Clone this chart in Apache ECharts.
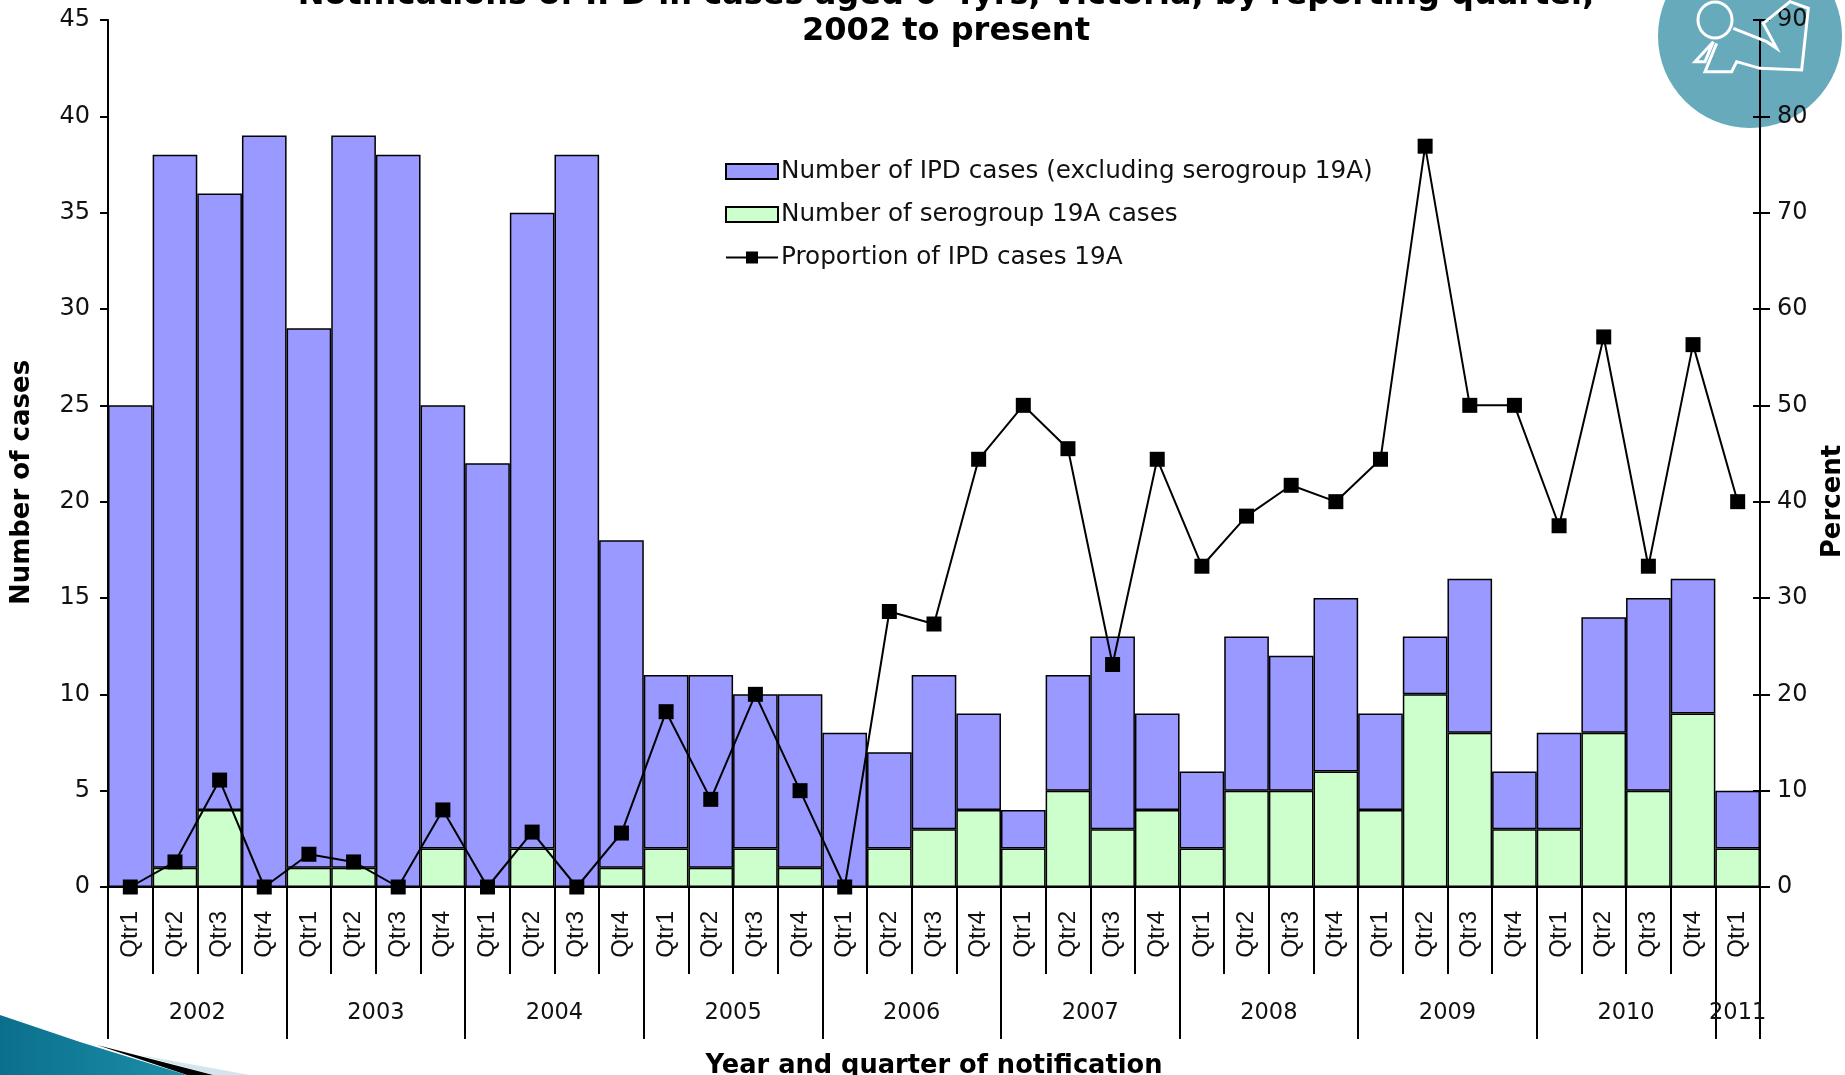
<!DOCTYPE html>
<html>
<head>
<meta charset="utf-8">
<title>IPD notifications by reporting quarter</title>
<script src="https://cdn.jsdelivr.net/npm/echarts@6/dist/echarts.min.js"></script>
<style>
  html, body { margin: 0; padding: 0; background: #fff; overflow: hidden; }
  #chart { width: 1845px; height: 1075px; }
</style>
</head>
<body>
<div id="chart"></div>
<script>
// Reporting quarters, 2002 Qtr1 to 2011 Qtr1
const quarters = [
  'Qtr1','Qtr2','Qtr3','Qtr4','Qtr1','Qtr2','Qtr3','Qtr4','Qtr1','Qtr2','Qtr3','Qtr4',
  'Qtr1','Qtr2','Qtr3','Qtr4','Qtr1','Qtr2','Qtr3','Qtr4','Qtr1','Qtr2','Qtr3','Qtr4',
  'Qtr1','Qtr2','Qtr3','Qtr4','Qtr1','Qtr2','Qtr3','Qtr4','Qtr1','Qtr2','Qtr3','Qtr4','Qtr1'
];
const years = ['2002','2003','2004','2005','2006','2007','2008','2009','2010','2011'];
const yearLabelPositions = [2, 6, 10, 14, 18, 22, 26, 30, 34, 36.5];
const yearBoundaries = [0, 4, 8, 12, 16, 20, 24, 28, 32, 36, 37];

// Cases other than serogroup 19A
const otherCases = [
  25, 37, 32, 39, 28, 38, 38, 23, 22, 33, 38, 17,
  9, 10, 8, 9, 8, 5, 8, 5, 2, 6, 10, 5,
  4, 8, 7, 9, 5, 3, 8, 3, 5, 6, 10, 7, 3
];
// Serogroup 19A cases
const serogroupCases = [
  0, 1, 4, 0, 1, 1, 0, 2, 0, 2, 0, 1,
  2, 1, 2, 1, 0, 2, 3, 4, 2, 5, 3, 4,
  2, 5, 5, 6, 4, 10, 8, 3, 3, 8, 5, 9, 2
];
// Share of cases that are 19A, percent
const proportion19A = [
  0, 2.6, 11.1, 0, 3.4, 2.6, 0, 8, 0, 5.7, 0, 5.6,
  18.2, 9.1, 20, 10, 0, 28.6, 27.3, 44.4, 50, 45.5, 23.1, 44.4,
  33.3, 38.5, 41.7, 40, 44.4, 76.9, 50, 50, 37.5, 57.1, 33.3, 56.3, 40
];

const NAME_OTHER = 'Number of IPD cases (excluding serogroup 19A)';
const NAME_19A = 'Number of serogroup 19A cases';
const NAME_PROP = 'Proportion of IPD cases 19A';

const INK = '#000';
const LABEL = '#111';
const WIDE_FONT = '"DejaVu Sans", Verdana, sans-serif';
const gridBox = { left: 108, top: 20, width: 1652, height: 867 };

const barStyle = (fill) => ({ color: fill, borderColor: INK, borderWidth: 1.5 });
const iconPts = (pts) => pts.map(([x, y]) => [1500 + x / 3, y / 3]);
const iconLine = { stroke: '#fff', fill: null, lineWidth: 3, lineJoin: 'miter' };

const chart = echarts.init(document.getElementById('chart'));
chart.setOption({
  animation: false,
  backgroundColor: '#fff',
  title: {
    text: 'Notifications of IPD in cases aged 0-4yrs, Victoria, by reporting quarter,\n2002 to present',
    left: 941, top: -27, textAlign: 'center',
    textStyle: { fontFamily: WIDE_FONT, fontWeight: 'bold', fontSize: 32, lineHeight: 36, color: INK }
  },
  legend: {
    data: [
      { name: NAME_OTHER, icon: 'rect' },
      { name: NAME_19A, icon: 'rect' },
      { name: NAME_PROP }
    ],
    orient: 'vertical', left: 720, top: 154, itemGap: 18,
    itemWidth: 52, itemHeight: 15,
    selectedMode: false,
    textStyle: { fontFamily: WIDE_FONT, fontSize: 24.7, color: LABEL, padding: [0, 0, 0, -2] }
  },
  grid: { ...gridBox, containLabel: false, outerBoundsMode: 'none' },
  xAxis: [
    {
      type: 'category', data: quarters, position: 'bottom',
      axisLine: { lineStyle: { color: INK, width: 2 } },
      axisTick: { show: true, length: 87, interval: 0, lineStyle: { color: INK, width: 2 } },
      axisLabel: {
        interval: 0, rotate: 90, margin: 24, padding: [5, 0, 0, 0],
        fontFamily: '"Liberation Sans", Arial, sans-serif', fontSize: 24, color: LABEL
      }
    },
    {
      type: 'value', min: 0, max: 37, position: 'bottom',
      name: 'Year and quarter of notification', nameLocation: 'middle', nameGap: 166,
      nameTextStyle: { fontFamily: WIDE_FONT, fontWeight: 'bold', fontSize: 25.7, color: INK },
      splitLine: { show: false },
      axisLine: { show: false },
      axisTick: { show: true, length: 152, customValues: yearBoundaries, lineStyle: { color: INK, width: 2 } },
      axisLabel: {
        customValues: yearLabelPositions, margin: 115, hideOverlap: false,
        formatter: (v) => years[yearLabelPositions.indexOf(v)],
        fontFamily: WIDE_FONT, fontSize: 22.5, color: LABEL
      }
    }
  ],
  yAxis: [
    {
      type: 'value', min: 0, max: 45, interval: 5, position: 'left',
      name: 'Number of cases', nameLocation: 'middle', nameGap: 73, nameRotate: 90,
      nameTextStyle: { fontFamily: WIDE_FONT, fontWeight: 'bold', fontSize: 26, color: INK, padding: [0, 58, 0, 0] },
      splitLine: { show: false },
      axisLine: { show: true, lineStyle: { color: INK, width: 2 } },
      axisTick: { show: true, length: 8, lineStyle: { color: INK, width: 2 } },
      axisLabel: { margin: 18, padding: [4, 0, 0, 0], fontFamily: WIDE_FONT, fontSize: 24, color: LABEL }
    },
    {
      type: 'value', min: 0, max: 90, interval: 10, position: 'right',
      name: 'Percent', nameLocation: 'middle', nameGap: 60, nameRotate: 90,
      nameTextStyle: { fontFamily: WIDE_FONT, fontWeight: 'bold', fontSize: 26, color: INK, padding: [0, 96, 0, 0] },
      splitLine: { show: false },
      axisLine: { show: true, lineStyle: { color: INK, width: 2 } },
      axisTick: { show: true, length: 10, lineStyle: { color: INK, width: 2 } },
      axisLabel: { margin: 17, padding: [4, 0, 0, 0], fontFamily: WIDE_FONT, fontSize: 24, color: LABEL }
    },
    {
      // Inward half of the crossing ticks on the percent axis
      type: 'value', min: 0, max: 90, interval: 10, position: 'right',
      splitLine: { show: false },
      axisLine: { show: false },
      axisTick: { show: true, inside: true, length: 7, lineStyle: { color: INK, width: 2 } },
      axisLabel: { show: false }
    }
  ],
  series: [
    {
      name: NAME_19A, type: 'bar', stack: 'cases', data: serogroupCases,
      barWidth: '100%', itemStyle: barStyle('#CCFFCC'), z: 2
    },
    {
      name: NAME_OTHER, type: 'bar', stack: 'cases', data: otherCases,
      barWidth: '100%', itemStyle: barStyle('#9999FF'), z: 2
    },
    {
      name: NAME_PROP, type: 'line', yAxisIndex: 1, data: proportion19A,
      symbol: 'rect', symbolSize: 15, clip: false,
      lineStyle: { color: INK, width: 2 }, itemStyle: { color: INK }, z: 5
    }
  ],
  graphic: [
    // Slide badge, top right
    { type: 'circle', z: 0, shape: { cx: 1750, cy: 36, r: 92 }, style: { fill: '#66AABC' } },
    { type: 'ellipse', z: 1, shape: { cx: 1715, cy: 20, rx: 17, ry: 18 }, style: { ...iconLine } },
    { type: 'polyline', z: 1, shape: { points: iconPts([[700,85],[800,125],[830,145],[790,70],[870,5],[925,25],[905,210],[780,205],[710,185],[695,215],[615,215],[650,130]]) }, style: { ...iconLine } },
    { type: 'polyline', z: 1, shape: { points: iconPts([[640,125],[585,185],[615,185],[640,125]]) }, style: { ...iconLine } },
    // Slide corner swoosh, bottom left
    { type: 'polygon', z: 0, shape: { points: [[140,1055],[250,1075],[213,1075]] }, style: { fill: '#d3e6ee' } },
    { type: 'polygon', z: 0, shape: { points: [[97,1045],[213,1075],[187,1075]] }, style: { fill: '#000' } },
    {
      type: 'polygon', z: 0, shape: { points: [[0,1015],[80,1042],[187,1075],[0,1075]] },
      style: { fill: new echarts.graphic.LinearGradient(0, 0, 1, 0, [
        { offset: 0, color: '#0b6f8c' }, { offset: 1, color: '#1c8fa9' }
      ]) }
    }
  ]
});
</script>
</body>
</html>
